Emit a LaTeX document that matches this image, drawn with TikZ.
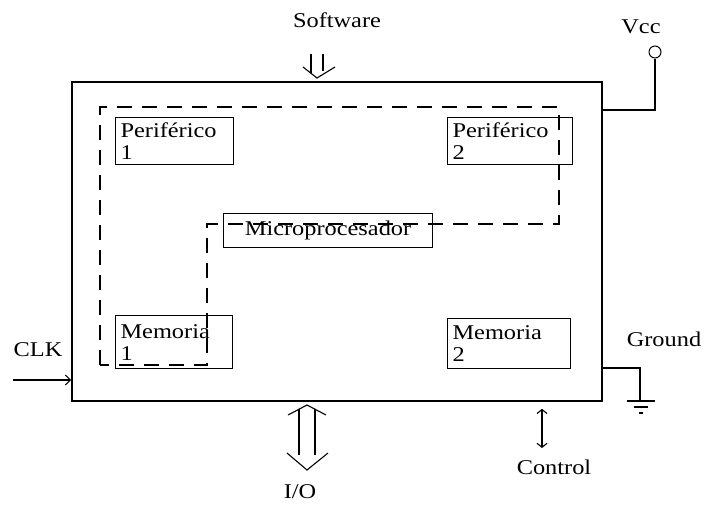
\documentclass[tikz,border=0pt]{standalone}
\usepackage{fontspec}
\setmainfont{Liberation Serif}[FakeStretch=1.16]
\usetikzlibrary{arrows.meta}

\tikzset{
  bloque/.style={draw, line width=1.1pt, align=left, inner xsep=5pt, inner ysep=1pt, anchor=north west},
  cable/.style={line width=1.1pt},
  camino/.style={line width=1.2pt, dash pattern=on 15pt off 10pt}
}

\begin{document}
\begin{tikzpicture}[x=1pt, y=-1pt, every node/.style={font=\fontsize{21}{22}\selectfont}]
  \useasboundingbox (0,0) rectangle (708,504);

  % placa principal
  \node[draw, line width=1.6pt, minimum width=530pt, minimum height=319pt, inner sep=0pt] (chip) at (337,241.5) {};

  % bloques internos
  \node[bloque, text width=108pt, minimum height=47pt] (per1) at (115,117) {Periférico\\1};
  \node[bloque, text width=115pt, minimum height=47pt] (per2) at (447,117) {Periférico\\2};
  \node[bloque, minimum width=209pt, minimum height=34pt, align=center] (micro) at (223,213) {Microprocesador};
  \node[bloque, text width=107pt, minimum height=53pt] (mem1) at (115,315) {Memoria\\1};
  \node[bloque, text width=113pt, minimum height=50pt] (mem2) at (447,318) {Memoria\\2};

  % bus interno
  \draw[camino] (100,365) -- (100,107) -- (559,107) -- (559,224) -- (207,224) -- (207,365) -- cycle;

  % alimentacion
  \node[circle, draw, line width=1pt, minimum size=12pt, inner sep=0pt] (vcc) at (655,52) {};
  \node (vcclab) at (641,27) {Vcc};
  \draw[cable] (vcc.south) |- (chip.east |- 0,110);

  % tierra
  \coordinate (gnd) at (640,401);
  \node (gndlab) at (664,339) {Ground};
  \draw[cable] (chip.east |- 0,368) -| (gnd);
  \draw[cable] ([xshift=-13pt]gnd) -- ([xshift=15pt]gnd);
  \draw[cable] ([xshift=-6pt, yshift=-6pt]gnd) -- ([xshift=8pt, yshift=-6pt]gnd);
  \draw[cable] ([xshift=-1pt, yshift=-12pt]gnd) -- ([xshift=3pt, yshift=-12pt]gnd);

  % reloj
  \coordinate (clkin) at (13,380);
  \node (clklab) at (38,350) {CLK};
  \draw[cable, -{Straight Barb[length=5pt, width=10pt]}] (clkin) -- (chip.west |- clkin);

  % programa (flecha doble hacia abajo)
  \coordinate (swin) at (317,54);
  \coordinate (swtip) at (317,78);
  \node (swlab) at (337,20) {Software};
  \draw[cable] ([xshift=-6pt]swin) -- ([xshift=-6pt, yshift=5pt]swtip);
  \draw[cable] ([xshift=6pt]swin) -- ([xshift=6pt, yshift=7pt]swtip);
  \draw[cable] ([xshift=-14pt, yshift=11pt]swtip) -- (swtip) -- ([xshift=18pt, yshift=11pt]swtip);

  % entrada / salida (flecha doble en ambos sentidos)
  \coordinate (iotop) at (307,405);
  \coordinate (iobot) at (307,470);
  \node (iolab) at (300,492) {I/O};
  \draw[cable] ([xshift=-8pt, yshift=-4pt]iotop) -- ([xshift=-8pt, yshift=15pt]iobot);
  \draw[cable] ([xshift=8pt, yshift=-4pt]iotop) -- ([xshift=8pt, yshift=15pt]iobot);
  \draw[cable] ([xshift=-19pt, yshift=-10pt]iotop) -- (iotop) -- ([xshift=19pt, yshift=-10pt]iotop);
  \draw[cable] ([xshift=-20pt, yshift=17pt]iobot) -- (iobot) -- ([xshift=21pt, yshift=17pt]iobot);

  % control
  \coordinate (ctl) at (542,448);
  \node (ctllab) at (554,467) {Control};
  \draw[cable, {Straight Barb[length=4pt, width=10pt]}-{Straight Barb[length=4pt, width=10pt]}, shorten <=7pt] (chip.south -| ctl) -- (ctl);
\end{tikzpicture}
\end{document}
